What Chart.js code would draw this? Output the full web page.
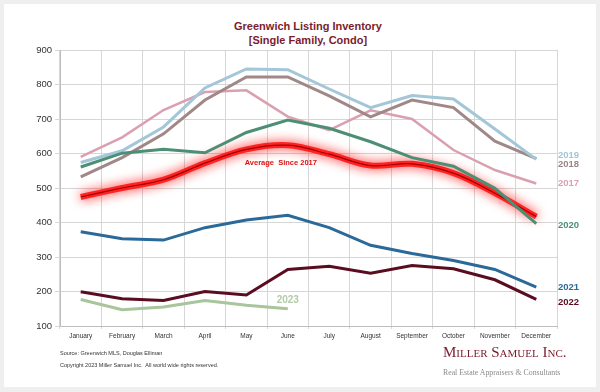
<!DOCTYPE html>
<html>
<head>
<meta charset="utf-8">
<script src="https://cdn.jsdelivr.net/npm/chart.js@4/dist/chart.umd.min.js"></script>
<style>
  body { margin: 0; background: #efefef; font-family: "Liberation Sans", Arial, sans-serif; }
  #card { position: absolute; left: 4px; top: 4px; width: 592px; height: 383px; background: #fff; }
  #wrap { position: absolute; left: 0; top: 0; width: 600px; height: 392px; }
  .title { position: absolute; left: 158px; width: 300px; text-align: center; color: #7a1c2e; font-weight: bold; font-size: 11px; }
  .foot { position: absolute; left: 60px; font-size: 5.5px; color: #333; white-space: nowrap; }
  #logo { position: absolute; left: 443px; top: 344px; white-space: nowrap; font-family: "Liberation Serif", serif; color: #7a1a2c; font-variant: small-caps; font-size: 15px; }
  #tag { position: absolute; left: 443px; top: 368px; white-space: nowrap; font-family: "Liberation Serif", serif; color: #8a8a8a; font-size: 7.8px; }
</style>
</head>
<body>
<div id="card"></div>
<div class="title" style="top:20px">Greenwich Listing Inventory</div>
<div class="title" style="top:34px">[Single Family, Condo]</div>
<div id="wrap"><canvas id="chart"></canvas></div>
<div class="foot" style="top:350px">Source: Greenwich MLS, Douglas Elliman</div>
<div class="foot" style="top:362px">Copyright 2023 Miller Samuel Inc.&nbsp; All world wide rights reserved.</div>
<div id="logo">Miller Samuel Inc.</div>
<div id="tag">Real Estate Appraisers &amp; Consultants</div>
<script>
const months = ['January', 'February', 'March', 'April', 'May', 'June', 'July', 'August', 'September', 'October', 'November', 'December'];
const yTicks = [100, 200, 300, 400, 500, 600, 700, 800, 900];

const v2017 = [590, 647, 726, 778, 783, 707, 668, 725, 700, 610, 552, 513];
const v2018 = [532, 588, 657, 755, 822, 822, 767, 706, 755, 733, 636, 585];
const v2019 = [574, 608, 677, 790, 845, 843, 787, 733, 768, 758, 671, 583];
const v2020 = [561, 601, 612, 602, 661, 697, 673, 634, 588, 563, 499, 397];
const v2021 = [373, 353, 349, 385, 407, 421, 385, 334, 310, 290, 264, 213];
const v2022 = [199, 179, 174, 200, 190, 264, 273, 253, 275, 266, 234, 177];
const v2023 = [177, 147, 155, 174, 160, 150];
const average = [474, 500, 524, 572, 612, 624, 598, 565, 570, 543, 485, 417];

// label name, colour, pixel shift from the last point
const endLabels = [
    { text: '2019', data: v2019, color: '#a3c6d8', dy: -4 },
    { text: '2018', data: v2018, color: '#9d8585', dy: 6 },
    { text: '2017', data: v2017, color: '#dba0b0', dy: 0 },
    { text: '2020', data: v2020, color: '#4c8f74', dy: 2 },
    { text: '2021', data: v2021, color: '#2b6a98', dy: 0 },
    { text: '2022', data: v2022, color: '#5a0d20', dy: 3 }
];

function line(data, color, width, order) {
    return {
        data: data,
        borderColor: color,
        borderWidth: width,
        pointRadius: 0,
        tension: 0,
        fill: false,
        order: order
    };
}

const glowLine = {
    data: average,
    borderColor: 'rgba(255,20,20,0.9)',
    borderWidth: 6,
    pointRadius: 0,
    tension: 0.35,
    fill: false,
    order: 9,
    glow: true
};
const avgLine = {
    data: average,
    borderColor: '#a00000',
    borderWidth: 1.2,
    pointRadius: 0,
    tension: 0.35,
    fill: false,
    order: 8
};

const glowPlugin = {
    id: 'glow',
    beforeDatasetDraw(chart, args) {
        const ds = chart.data.datasets[args.index];
        if (!ds.glow) return;
        chart.ctx.save();
        chart.ctx.shadowColor = 'rgba(255,0,0,1)';
        chart.ctx.shadowBlur = 11;
    },
    afterDatasetDraw(chart, args) {
        const ds = chart.data.datasets[args.index];
        if (ds.glow) chart.ctx.restore();
    }
};

const labelPlugin = {
    id: 'endLabels',
    afterDatasetsDraw(chart) {
        const ctx = chart.ctx;
        const x = chart.scales.x;
        const y = chart.scales.y;
        ctx.save();
        ctx.font = 'bold 9.5px "Liberation Sans", Arial, sans-serif';
        ctx.textBaseline = 'middle';
        ctx.textAlign = 'left';
        endLabels.forEach(l => {
            const last = l.data[l.data.length - 1];
            ctx.fillStyle = l.color;
            ctx.fillText(l.text, chart.chartArea.right + 1, y.getPixelForValue(last) + l.dy);
        });
        ctx.textAlign = 'center';
        ctx.fillStyle = '#b3c9a8';
        ctx.font = 'bold 10px "Liberation Sans", Arial, sans-serif';
        ctx.fillText('2023', x.getPixelForValue(5), y.getPixelForValue(v2023[5]) - 9);
        ctx.fillStyle = '#e01010';
        ctx.font = 'bold 7.5px "Liberation Sans", Arial, sans-serif';
        ctx.fillText('Average  Since 2017', x.getPixelForValue(5) - 7, y.getPixelForValue(average[5]) + 18);
        ctx.restore();
    }
};

new Chart(document.getElementById('chart'), {
    type: 'line',
    data: {
        labels: months,
        datasets: [
            line(v2020, '#4c8f74', 3, 1),
            line(v2019, '#a3c6d8', 3, 3),
            line(v2018, '#a08888', 3, 4),
            line(v2017, '#dba0b0', 2.5, 5),
            line(v2021, '#2b6a98', 3, 2),
            line(v2022, '#5a0d20', 3, 2),
            line(v2023, '#a8c59c', 3, 2),
            glowLine,
            avgLine
        ]
    },
    options: {
        responsive: true,
        maintainAspectRatio: false,
        animation: false,
        layout: { padding: { top: 50, right: 43, bottom: 50, left: 0 } },
        plugins: {
            legend: { display: false },
            tooltip: { enabled: false },
            title: { display: false }
        },
        scales: {
            x: {
                offset: true,
                grid: { offset: true, color: '#d6d6d6', lineWidth: 1, tickLength: 3 },
                border: { color: '#bdbdbd' },
                ticks: { color: '#333', font: { size: 6.5 }, padding: 3, maxRotation: 0, autoSkip: false },
                afterFit: s => { s.height = 16; }
            },
            y: {
                min: 100,
                max: 900,
                afterBuildTicks: s => { s.ticks = yTicks.map(v => ({ value: v })); },
                grid: { color: '#d6d6d6', lineWidth: 1, tickLength: 5 },
                border: { color: '#bdbdbd' },
                ticks: { color: '#333', font: { size: 9.5 }, padding: 3 },
                afterFit: s => { s.width = 60; }
            }
        }
    },
    plugins: [glowPlugin, labelPlugin]
});
</script>
</body>
</html>
